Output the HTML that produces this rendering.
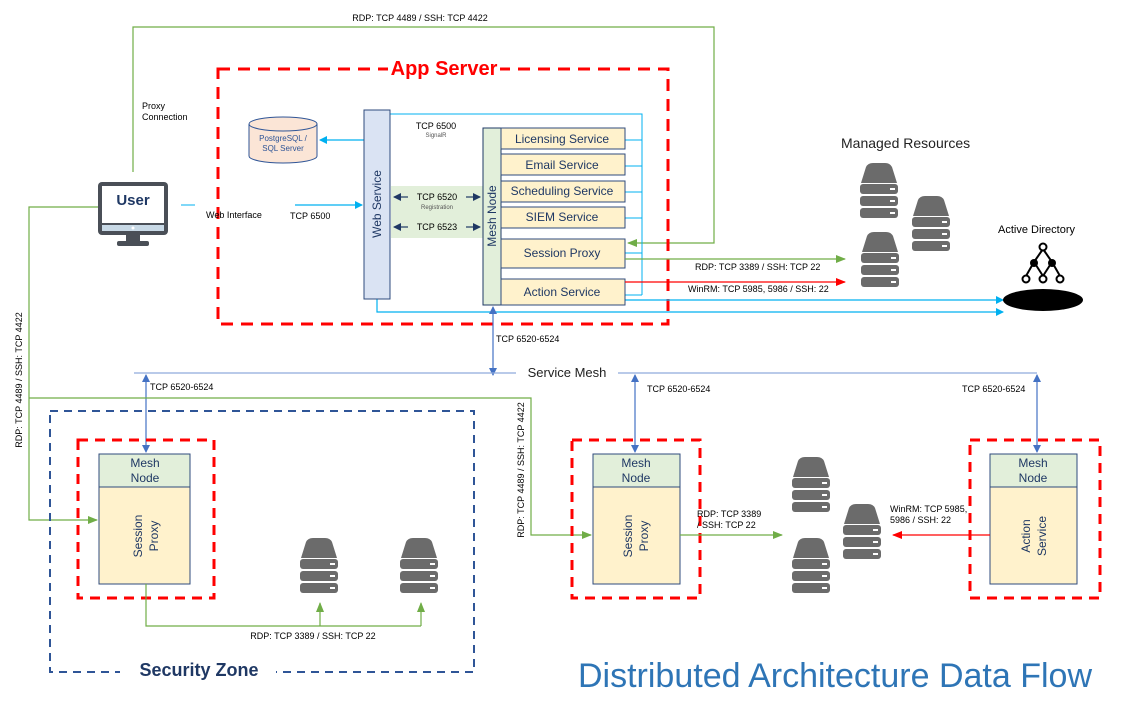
<!DOCTYPE html>
<html><head><meta charset="utf-8"><style>
html,body{margin:0;padding:0;background:#fff;}
svg{display:block;font-family:"Liberation Sans",sans-serif;}
</style></head><body>
<svg width="1128" height="706" viewBox="0 0 1128 706" xmlns="http://www.w3.org/2000/svg">
<defs>
<marker id="ab" markerWidth="8" markerHeight="8" refX="7" refY="4" orient="auto" markerUnits="userSpaceOnUse"><path d="M0,0 L8,4 L0,8 z" fill="#00b0f0"/></marker>
<marker id="ag" markerWidth="10" markerHeight="8" refX="9" refY="4" orient="auto" markerUnits="userSpaceOnUse"><path d="M0,0 L10,4 L0,8 z" fill="#70ad47"/></marker>
<marker id="ar" markerWidth="10" markerHeight="8" refX="9" refY="4" orient="auto" markerUnits="userSpaceOnUse"><path d="M0,0 L10,4 L0,8 z" fill="#ff0000"/></marker>
<marker id="am" markerWidth="8" markerHeight="8" refX="7" refY="4" orient="auto-start-reverse" markerUnits="userSpaceOnUse"><path d="M0,0 L8,4 L0,8 z" fill="#4472c4"/></marker>
<marker id="an" markerWidth="8" markerHeight="8" refX="7" refY="4" orient="auto-start-reverse" markerUnits="userSpaceOnUse"><path d="M0,0 L8,4 L0,8 z" fill="#1f3864"/></marker>
<g id="srv">
<path d="M1,20 L6,4 Q8,0 13,0 L25,0 Q30,0 32,4 L37,20 z" fill="#6b6b6b"/>
<rect x="0" y="21" width="38" height="10" rx="3" fill="#6b6b6b"/>
<rect x="0" y="33" width="38" height="10" rx="3" fill="#6b6b6b"/>
<rect x="0" y="45" width="38" height="10" rx="3" fill="#6b6b6b"/>
<rect x="30" y="25" width="5" height="2" fill="#fff"/><rect x="30" y="37" width="5" height="2" fill="#fff"/><rect x="30" y="49" width="5" height="2" fill="#fff"/>
</g>
</defs>

<polyline points="133,172 133,27 714,27 714,243 628,243" fill="none" stroke="#70ad47" stroke-width="1.2" marker-end="url(#ag)"/>
<text x="420" y="21" font-size="9" text-anchor="middle">RDP: TCP 4489  / SSH: TCP 4422</text>
<text x="142" y="109" font-size="9">Proxy</text>
<text x="142" y="120" font-size="9">Connection</text>

<rect x="218" y="69" width="450" height="255" fill="none" stroke="#ff0000" stroke-width="3" stroke-dasharray="12,8"/>
<rect x="388" y="56" width="112" height="24" fill="#fff"/>
<text x="444" y="75" font-size="20" font-weight="bold" fill="#ff0000" text-anchor="middle">App Server</text>

<path d="M249,124 L249,156 A34,7 0 0 0 317,156 L317,124" fill="#fbe5d6" stroke="#2f5597"/>
<ellipse cx="283" cy="124" rx="34" ry="7" fill="#fbe5d6" stroke="#2f5597"/>
<text x="283" y="141" font-size="8" fill="#2f5597" text-anchor="middle">PostgreSQL /</text>
<text x="283" y="151" font-size="8" fill="#2f5597" text-anchor="middle">SQL Server</text>
<line x1="364" y1="140" x2="320" y2="140" stroke="#00b0f0" stroke-width="1.2" marker-end="url(#ab)"/>

<polyline points="390,114 642,114 642,295" fill="none" stroke="#00b0f0" stroke-width="1"/>
<polyline points="377,299 377,312 1003,312" fill="none" stroke="#00b0f0" stroke-width="1.2" marker-end="url(#ab)"/>
<line x1="625" y1="300" x2="1003" y2="300" stroke="#00b0f0" stroke-width="1.2" marker-end="url(#ab)"/>
<g stroke="#00b0f0" stroke-width="1">
<line x1="625" y1="140" x2="642" y2="140"/><line x1="625" y1="166" x2="642" y2="166"/>
<line x1="625" y1="192" x2="642" y2="192"/><line x1="625" y1="218" x2="642" y2="218"/>
<line x1="625" y1="253" x2="642" y2="253"/><line x1="625" y1="295" x2="642" y2="295"/>
</g>
<text x="436" y="129" font-size="9" text-anchor="middle">TCP 6500</text>
<text x="436" y="137" font-size="6" fill="#555" text-anchor="middle">SignalR</text>

<rect x="364" y="110" width="26" height="189" fill="#dae3f3" stroke="#2f4b7c"/>
<text transform="translate(381,204) rotate(-90)" font-size="12" fill="#1f3864" text-anchor="middle">Web Service</text>
<rect x="391" y="186" width="92" height="52" fill="#e2efda"/>
<g stroke="#1f3864" stroke-width="1.2">
<line x1="394" y1="197" x2="408" y2="197" marker-start="url(#an)"/>
<line x1="466" y1="197" x2="480" y2="197" marker-end="url(#an)"/>
<line x1="394" y1="227" x2="408" y2="227" marker-start="url(#an)"/>
<line x1="466" y1="227" x2="480" y2="227" marker-end="url(#an)"/>
</g>
<text x="437" y="200" font-size="9" text-anchor="middle">TCP 6520</text>
<text x="437" y="209" font-size="6" fill="#555" text-anchor="middle">Registration</text>
<text x="437" y="230" font-size="9" text-anchor="middle">TCP 6523</text>

<rect x="483" y="128" width="18" height="177" fill="#e2efda" stroke="#1f3864"/>
<text transform="translate(496,216) rotate(-90)" font-size="12" fill="#1f3864" text-anchor="middle">Mesh Node</text>
<g fill="#fff2cc" stroke="#2f4b7c">
<rect x="501" y="128" width="124" height="21"/><rect x="501" y="154" width="124" height="21"/>
<rect x="501" y="181" width="124" height="21"/><rect x="501" y="207" width="124" height="21"/>
<rect x="501" y="239" width="124" height="29"/><rect x="501" y="279" width="124" height="26"/>
</g>
<g font-size="12" fill="#1f3864" text-anchor="middle">
<text x="562" y="143">Licensing Service</text><text x="562" y="169">Email Service</text>
<text x="562" y="195">Scheduling Service</text><text x="562" y="221">SIEM Service</text>
<text x="562" y="257">Session Proxy</text><text x="562" y="296">Action Service</text>
</g>

<line x1="181" y1="205" x2="195" y2="205" stroke="#00b0f0"/>
<line x1="295" y1="205" x2="362" y2="205" stroke="#00b0f0" stroke-width="1.2" marker-end="url(#ab)"/>
<text x="206" y="218" font-size="9">Web Interface</text>
<text x="290" y="219" font-size="9">TCP 6500</text>

<rect x="98" y="182" width="70" height="53" rx="4" fill="#4a4f57"/>
<rect x="102" y="186" width="62" height="37" fill="#fff"/>
<rect x="102" y="225" width="62" height="6" fill="#c8d9e6"/>
<circle cx="133" cy="228" r="1.5" fill="#fff"/>
<rect x="126" y="235" width="14" height="7" fill="#4a4f57"/>
<rect x="117" y="241" width="32" height="5" rx="2" fill="#4a4f57"/>
<text x="133" y="205" font-size="15" font-weight="bold" fill="#1f3864" text-anchor="middle">User</text>

<line x1="625" y1="259" x2="845" y2="259" stroke="#70ad47" stroke-width="1.2" marker-end="url(#ag)"/>
<line x1="625" y1="282" x2="845" y2="282" stroke="#ff0000" stroke-width="1.2" marker-end="url(#ar)"/>
<text x="695" y="270" font-size="9">RDP: TCP 3389  / SSH: TCP  22</text>
<text x="688" y="292" font-size="9">WinRM: TCP 5985,  5986  / SSH: 22</text>
<text x="841" y="148" font-size="14" fill="#222">Managed Resources</text>
<use href="#srv" x="860" y="163"/><use href="#srv" x="912" y="196"/><use href="#srv" x="861" y="232"/>
<text x="998" y="233" font-size="11">Active Directory</text>
<g stroke="#000" stroke-width="2" fill="none">
<line x1="1043" y1="249" x2="1034" y2="262"/><line x1="1043" y1="249" x2="1052" y2="262"/>
<line x1="1034" y1="262" x2="1026" y2="276"/><line x1="1034" y1="262" x2="1043" y2="276"/>
<line x1="1052" y1="262" x2="1043" y2="276"/><line x1="1052" y1="262" x2="1060" y2="276"/>
<circle cx="1043" cy="247" r="3.5" fill="#fff"/>
<circle cx="1026" cy="279" r="3.5" fill="#fff"/><circle cx="1043" cy="279" r="3.5" fill="#fff"/><circle cx="1060" cy="279" r="3.5" fill="#fff"/>
</g>
<circle cx="1034" cy="263" r="4" fill="#000"/><circle cx="1052" cy="263" r="4" fill="#000"/>
<ellipse cx="1043" cy="300" rx="40" ry="11" fill="#000"/>

<line x1="493" y1="307" x2="493" y2="375" stroke="#4472c4" stroke-width="1.2" marker-start="url(#am)" marker-end="url(#am)"/>
<text x="496" y="342" font-size="9">TCP 6520-6524</text>
<line x1="134" y1="373" x2="1037" y2="373" stroke="#8faadc" stroke-width="1.2"/>
<rect x="516" y="364" width="102" height="18" fill="#fff"/>
<text x="567" y="377" font-size="13" fill="#222" text-anchor="middle">Service Mesh</text>
<line x1="146" y1="375" x2="146" y2="452" stroke="#4472c4" stroke-width="1.2" marker-start="url(#am)" marker-end="url(#am)"/>
<line x1="635" y1="375" x2="635" y2="452" stroke="#4472c4" stroke-width="1.2" marker-start="url(#am)" marker-end="url(#am)"/>
<line x1="1037" y1="375" x2="1037" y2="452" stroke="#4472c4" stroke-width="1.2" marker-start="url(#am)" marker-end="url(#am)"/>
<text x="150" y="390" font-size="9">TCP 6520-6524</text>
<text x="647" y="392" font-size="9">TCP 6520-6524</text>
<text x="962" y="392" font-size="9">TCP 6520-6524</text>

<polyline points="98,207 29,207 29,520 97,520" fill="none" stroke="#70ad47" stroke-width="1.2" marker-end="url(#ag)"/>
<text transform="translate(22,380) rotate(-90)" font-size="9" text-anchor="middle">RDP: TCP 4489 / SSH: TCP 4422</text>
<polyline points="29,398 531,398 531,535 591,535" fill="none" stroke="#70ad47" stroke-width="1.2" marker-end="url(#ag)"/>
<text transform="translate(524,470) rotate(-90)" font-size="9" text-anchor="middle">RDP: TCP 4489 / SSH: TCP 4422</text>

<rect x="50" y="411" width="424" height="261" fill="none" stroke="#2f5597" stroke-width="2" stroke-dasharray="8,6"/>
<rect x="120" y="658" width="156" height="24" fill="#fff"/>
<text x="199" y="676" font-size="18" font-weight="bold" fill="#1f3864" text-anchor="middle">Security Zone</text>
<rect x="78" y="440" width="136" height="158" fill="none" stroke="#ff0000" stroke-width="3" stroke-dasharray="10,7"/>
<rect x="99" y="454" width="91" height="130" fill="#fff2cc" stroke="#2f4b7c"/>
<rect x="99" y="454" width="91" height="33" fill="#e2efda" stroke="#2f4b7c"/>
<text x="145" y="467" font-size="12" fill="#1f3864" text-anchor="middle">Mesh</text>
<text x="145" y="482" font-size="12" fill="#1f3864" text-anchor="middle">Node</text>
<text transform="translate(142,536) rotate(-90)" font-size="12" fill="#1f3864" text-anchor="middle">Session</text>
<text transform="translate(158,536) rotate(-90)" font-size="12" fill="#1f3864" text-anchor="middle">Proxy</text>
<polyline points="146,584 146,626 421,626" fill="none" stroke="#70ad47" stroke-width="1.2"/>
<line x1="320" y1="626" x2="320" y2="603" stroke="#70ad47" stroke-width="1.2" marker-end="url(#ag)"/>
<line x1="421" y1="626" x2="421" y2="603" stroke="#70ad47" stroke-width="1.2" marker-end="url(#ag)"/>
<text x="313" y="639" font-size="9" text-anchor="middle">RDP: TCP 3389  / SSH: TCP  22</text>
<use href="#srv" x="300" y="538"/>
<use href="#srv" x="400" y="538"/>

<rect x="572" y="440" width="128" height="158" fill="none" stroke="#ff0000" stroke-width="3" stroke-dasharray="10,7"/>
<rect x="593" y="454" width="87" height="130" fill="#fff2cc" stroke="#2f4b7c"/>
<rect x="593" y="454" width="87" height="33" fill="#e2efda" stroke="#2f4b7c"/>
<text x="636" y="467" font-size="12" fill="#1f3864" text-anchor="middle">Mesh</text>
<text x="636" y="482" font-size="12" fill="#1f3864" text-anchor="middle">Node</text>
<text transform="translate(632,536) rotate(-90)" font-size="12" fill="#1f3864" text-anchor="middle">Session</text>
<text transform="translate(648,536) rotate(-90)" font-size="12" fill="#1f3864" text-anchor="middle">Proxy</text>
<line x1="680" y1="535" x2="782" y2="535" stroke="#70ad47" stroke-width="1.2" marker-end="url(#ag)"/>
<text x="697" y="517" font-size="9">RDP: TCP 3389</text>
<text x="697" y="528" font-size="9">/ SSH: TCP 22</text>
<use href="#srv" x="792" y="457"/><use href="#srv" x="792" y="538"/><use href="#srv" x="843" y="504"/>

<rect x="970" y="440" width="130" height="158" fill="none" stroke="#ff0000" stroke-width="3" stroke-dasharray="10,7"/>
<rect x="990" y="454" width="87" height="130" fill="#fff2cc" stroke="#2f4b7c"/>
<rect x="990" y="454" width="87" height="33" fill="#e2efda" stroke="#2f4b7c"/>
<text x="1033" y="467" font-size="12" fill="#1f3864" text-anchor="middle">Mesh</text>
<text x="1033" y="482" font-size="12" fill="#1f3864" text-anchor="middle">Node</text>
<text transform="translate(1030,536) rotate(-90)" font-size="12" fill="#1f3864" text-anchor="middle">Action</text>
<text transform="translate(1046,536) rotate(-90)" font-size="12" fill="#1f3864" text-anchor="middle">Service</text>
<line x1="990" y1="535" x2="893" y2="535" stroke="#ff0000" stroke-width="1.2" marker-end="url(#ar)"/>
<text x="890" y="512" font-size="9">WinRM: TCP 5985,</text>
<text x="890" y="523" font-size="9">5986 / SSH: 22</text>

<text x="835" y="687" font-size="34" fill="#2e75b6" text-anchor="middle" textLength="514" lengthAdjust="spacingAndGlyphs">Distributed Architecture Data Flow</text>
</svg>
</body></html>
